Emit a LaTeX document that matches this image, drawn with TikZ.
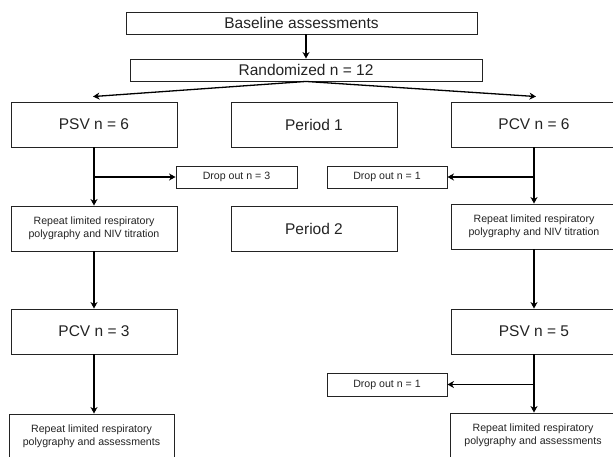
\documentclass[tikz,border=0pt]{standalone}
\usepackage{fontspec}
\setmainfont{Liberation Sans}
\usetikzlibrary{arrows.meta, positioning}
\definecolor{boxgray}{RGB}{35,35,35}

\begin{document}
\begin{tikzpicture}[x=1pt, y=-1pt,
  bigbox/.style={draw=boxgray, line width=0.9pt, inner sep=0pt, align=center, text=boxgray, font=\fontsize{15.5}{18}\selectfont, minimum width=166pt, minimum height=45pt},
  smallbox/.style={bigbox, font=\fontsize{10.6}{13.3}\selectfont},
  dropbox/.style={smallbox, minimum width=120pt, minimum height=22pt},
  flow/.style={-{Stealth[length=6.5pt, width=7pt, inset=2pt]}, line width=1.3pt, draw=black}]
  \useasboundingbox (0,0) rectangle (613,457);

  \node[bigbox, minimum width=351pt, minimum height=22pt] (base) at (301.5,23) {Baseline assessments};
  \node[bigbox, minimum width=352pt, minimum height=22pt] (rand) at (306,70) {Randomized n = 12};

  \node[bigbox] (psv1) at (94,124.5) {PSV n = 6};
  \node[bigbox] (per1) at (314,124.5) {Period 1};
  \node[bigbox] (pcv1) at (534,124.5) {PCV n = 6};

  \node[dropbox, minimum width=121pt] (drop1) at (236.5,177) {Drop out n = 3};
  \node[dropbox] (drop2) at (387,177) {Drop out n = 1};

  \node[smallbox] (rep1) at (94,228.5) {Repeat limited respiratory\\polygraphy and NIV titration};
  \node[bigbox] (per2) at (314,228.5) {Period 2};
  \node[smallbox] (rep2) at (534,226.5) {Repeat limited respiratory\\polygraphy and NIV titration};

  \node[bigbox] (pcv3) at (94,331.5) {PCV n = 3};
  \node[bigbox] (psv5) at (534,331.5) {PSV n = 5};

  \node[dropbox, minimum height=23pt] (drop3) at (387,384.5) {Drop out n = 1};

  \node[smallbox, minimum width=165pt] (rep3) at (91.5,436.5) {Repeat limited respiratory\\polygraphy and assessments};
  \node[smallbox] (rep4) at (533,435.5) {Repeat limited respiratory\\polygraphy and assessments};

  \draw[flow] (base.south -| rand.north) -- (rand.north);
  \draw[flow] (rand.south) -- ([yshift=5pt, xshift=-1pt]psv1.north);
  \draw[flow] (rand.south) -- ([yshift=5pt, xshift=2pt]pcv1.north);

  \draw[flow] (psv1.south) -- (rep1.north);
  \draw[flow] (psv1.south |- drop1.west) -- (drop1.west);
  \draw[flow] (pcv1.south) -- (rep2.north);
  \draw[flow] (pcv1.south |- drop2.east) -- (drop2.east);

  \draw[flow] (rep1.south) -- (pcv3.north);
  \draw[flow] (rep2.south) -- (psv5.north);

  \draw[flow] (pcv3.south) -- (pcv3.south |- rep3.north);
  \draw[flow] (psv5.south) -- (psv5.south |- rep4.north);
  \draw[flow] (psv5.south |- drop3.east) -- (drop3.east);
\end{tikzpicture}
\end{document}
